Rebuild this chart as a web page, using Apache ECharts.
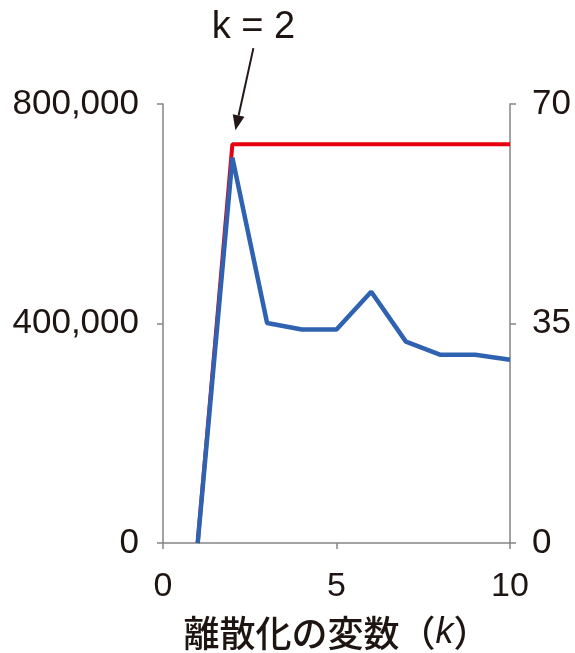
<!DOCTYPE html>
<html>
<head>
<meta charset="utf-8">
<script src="https://cdn.jsdelivr.net/npm/echarts@6/dist/echarts.min.js"></script>
<style>
html,body{margin:0;padding:0;background:#fff;}
#chart{width:575px;height:653px;}
</style>
</head>
<body>
<div id="chart"></div>
<script>
// ---- data ----
const kValues = [1, 2, 3, 4, 5, 6, 7, 8, 9, 10];
const blueValues = [0, 702000, 401000, 389000, 389000, 458000, 367000, 343000, 343000, 334000];
const redValues = [0, 63.6, 63.6, 63.6, 63.6, 63.6, 63.6, 63.6, 63.6, 63.6];
const xTicks = [0, 5, 10];
const leftTicks = [0, 400000, 800000];
const rightTicks = [0, 35, 70];
const xAxisName = '離散化の変数（';
const annotationText = 'k = 2';
const annotationK = 2;

const FONT = '"Liberation Sans", Arial, sans-serif';
const TXT = '#1e1512';
const AX = '#858585';

const chart = echarts.init(document.getElementById('chart'), null, {renderer: 'canvas'});

const axisCommon = {
  axisLine: {show: true, lineStyle: {color: AX, width: 1.5}},
  axisTick: {show: true, length: 6, lineStyle: {color: AX, width: 1.5}},
  splitLine: {show: false},
};

const option = {
  animation: false,
  backgroundColor: '#fff',
  grid: {left: 163, right: 65, top: 104, bottom: 110, containLabel: false, outerBoundsMode: 'none'},
  xAxis: Object.assign({}, axisCommon, {
    type: 'value',
    min: xTicks[0], max: xTicks[xTicks.length - 1], interval: xTicks[1] - xTicks[0],
    axisLabel: {color: TXT, fontSize: 34, fontFamily: FONT, margin: 27},
    name: '{a|' + xAxisName + '}{k|k}{a|）}',
    nameLocation: 'middle',
    nameGap: 72,
    nameTextStyle: {
      rich: {
        a: {fontSize: 36, color: TXT, fontFamily: '"Noto Sans CJK JP", sans-serif', fontWeight: 500},
        k: {fontSize: 36, color: TXT, fontStyle: 'italic', fontFamily: FONT}
      }
    }
  }),
  yAxis: [
    Object.assign({}, axisCommon, {
      type: 'value', position: 'left',
      min: leftTicks[0], max: leftTicks[leftTicks.length - 1], interval: leftTicks[1] - leftTicks[0],
      axisLabel: {color: TXT, fontSize: 35, fontFamily: FONT, margin: 24,
        formatter: v => v.toLocaleString('en-US')}
    }),
    Object.assign({}, axisCommon, {
      type: 'value', position: 'right',
      min: rightTicks[0], max: rightTicks[rightTicks.length - 1], interval: rightTicks[1] - rightTicks[0],
      axisLabel: {color: TXT, fontSize: 35, fontFamily: FONT, margin: 22}
    })
  ],
  series: [
    {
      type: 'line', yAxisIndex: 1,
      data: kValues.map((k, i) => [k, redValues[i]]),
      symbol: 'none',
      lineStyle: {color: '#e60012', width: 4},
      z: 2
    },
    {
      type: 'line', yAxisIndex: 0,
      data: kValues.map((k, i) => [k, blueValues[i]]),
      symbol: 'none',
      lineStyle: {color: '#2f62b0', width: 4.5},
      z: 3
    }
  ]
};
chart.setOption(option);

// annotation arrow pointing at k = 2 on the red line
const idx = kValues.indexOf(annotationK);
const p = chart.convertToPixel({xAxisIndex: 0, yAxisIndex: 1}, [annotationK, redValues[idx]]);
const tip = [p[0] + 3, p[1] - 14];
const start = [p[0] + 21, p[1] - 96];
const dx = start[0] - tip[0], dy = start[1] - tip[1];
const len = Math.sqrt(dx * dx + dy * dy);
const ux = dx / len, uy = dy / len;
const headLen = 15, headW = 6;
const base = [tip[0] + ux * headLen, tip[1] + uy * headLen];
chart.setOption({
  graphic: [
    {type: 'line', shape: {x1: start[0], y1: start[1], x2: base[0], y2: base[1]},
      style: {stroke: '#231815', lineWidth: 2}},
    {type: 'polygon', shape: {points: [tip,
      [base[0] - uy * headW, base[1] + ux * headW],
      [base[0] + uy * headW, base[1] - ux * headW]]},
      style: {fill: '#231815'}},
    {type: 'text', x: start[0], y: 28,
      style: {text: annotationText, fontSize: 38, fontFamily: FONT, fill: TXT,
        align: 'center', verticalAlign: 'middle'}}
  ]
});
</script>
</body>
</html>
